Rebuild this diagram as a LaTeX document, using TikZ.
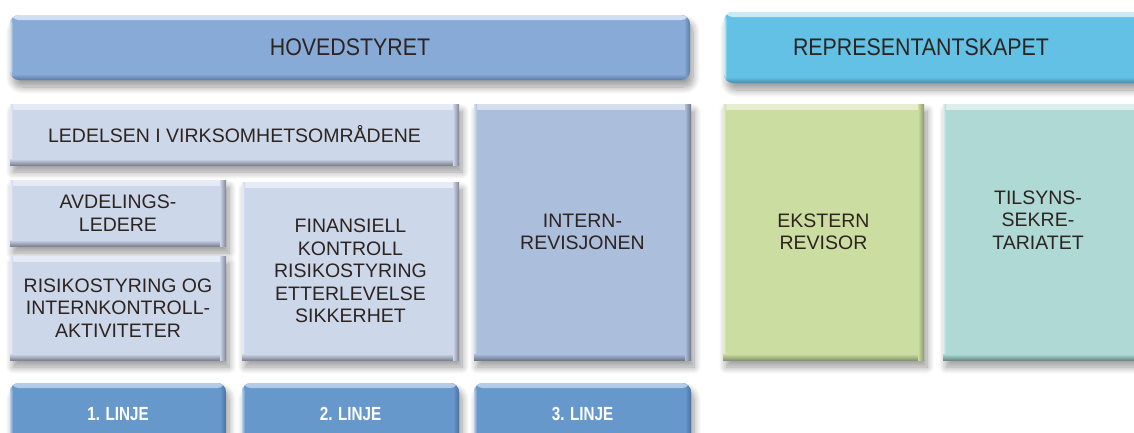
\documentclass[tikz,border=0pt]{standalone}
\usepackage{fontspec}
\setmainfont{Liberation Sans}
\newfontfamily\titlefamily[FakeStretch=0.89]{Liberation Sans}
\newfontfamily\linjefamily[FakeStretch=0.8]{Liberation Sans}
\usetikzlibrary{shadows.blur}

% text and panel colours (fill, dark bevel, light bevel)
\definecolor{ink}{HTML}{2D2420}
\definecolor{boardfill}{HTML}{87AAD7}\definecolor{boarddark}{HTML}{5C7BA5}\definecolor{boardlight}{HTML}{D3E0F2}
\definecolor{repfill}{HTML}{62C1E4}\definecolor{repdark}{HTML}{4A8DA8}\definecolor{replight}{HTML}{CDEBF6}
\definecolor{mgmtfill}{HTML}{CDD7EA}\definecolor{mgmtdark}{HTML}{7E8595}\definecolor{mgmtlight}{HTML}{E6ECF6}
\definecolor{auditfill}{HTML}{ABBEDC}\definecolor{auditdark}{HTML}{6C798E}\definecolor{auditlight}{HTML}{D5DFEE}
\definecolor{extfill}{HTML}{CCDDA2}\definecolor{extdark}{HTML}{889670}\definecolor{extlight}{HTML}{E6EED0}
\definecolor{supfill}{HTML}{AFD9D5}\definecolor{supdark}{HTML}{6C8C89}\definecolor{suplight}{HTML}{DCEFEC}
\definecolor{linefill}{HTML}{6798CC}\definecolor{linedark}{HTML}{4C70A0}\definecolor{linelight}{HTML}{B6CDE8}

\newcommand\bodysize{\fontsize{19.5}{22.4}\selectfont}
\newcommand\titlesize{\titlefamily\fontsize{24}{26}\selectfont}
\newcommand\linjesize{\linjefamily\bfseries\fontsize{19}{20}\selectfont}

\tikzset{
  % bevelled panel: #1 fill, #2 dark edge, #3 light edge
  panel/.style n args={3}{anchor=north west, inner sep=0pt, outer sep=0pt,
    fill=#1, text=ink, align=center, font=\bodysize,
    blur shadow={shadow xshift=3pt, shadow yshift=-7pt, shadow blur radius=7pt,
      shadow blur steps=10, shadow opacity=40},
    path picture={
      \shade[top color=#3, bottom color=#1] (path picture bounding box.north west)
        rectangle ([yshift=-5pt]path picture bounding box.north east);
      \shade[left color=#3, right color=#1] (path picture bounding box.north west)
        rectangle ([xshift=3pt]path picture bounding box.south west);
      \shade[top color=#1, bottom color=#2] ([yshift=6pt]path picture bounding box.south west)
        rectangle (path picture bounding box.south east);
      \shade[left color=#1, right color=#2] ([xshift=-6pt]path picture bounding box.north east)
        rectangle (path picture bounding box.south east);
    }},
  dims/.style 2 args={minimum width=#1, minimum height=#2},
  bar/.style={rounded corners=9pt},
  caption/.style={inner sep=0pt, text=ink, align=center, font=\bodysize},
}

\begin{document}
\begin{tikzpicture}[x=1pt, y=-1pt]
\useasboundingbox (0,0) rectangle (1134,432);
\clip (0,0) rectangle (1134,432);

% governing bodies
\node[panel={boardfill}{boarddark}{boardlight}, bar, dims={680pt}{65pt}, font=\titlesize]
  (board) at (10,15) {HOVEDSTYRET};
\node[panel={repfill}{repdark}{replight}, bar, dims={440pt}{71pt}] (rep) at (724,12) {};
\node[caption, font=\titlesize] (reptext) at (921,47) {REPRESENTANTSKAPET};

% management and control functions
\node[panel={mgmtfill}{mgmtdark}{mgmtlight}, dims={449pt}{61pt}]
  (mgmt) at (10,104) {LEDELSEN I VIRKSOMHETSOMRÅDENE};
\node[panel={mgmtfill}{mgmtdark}{mgmtlight}, dims={216pt}{66pt}]
  (dept) at (10,180) {AVDELINGS-\\LEDERE};
\node[panel={mgmtfill}{mgmtdark}{mgmtlight}, dims={216pt}{104pt}]
  (risk) at (10,256) {RISIKOSTYRING OG\\INTERNKONTROLL-\\AKTIVITETER};
\node[panel={mgmtfill}{mgmtdark}{mgmtlight}, dims={217pt}{178pt}]
  (control) at (242,182) {FINANSIELL\\KONTROLL\\RISIKOSTYRING\\ETTERLEVELSE\\SIKKERHET};
\node[panel={auditfill}{auditdark}{auditlight}, dims={217pt}{256pt}]
  (audit) at (474,104) {INTERN-\\REVISJONEN};

% external bodies
\node[panel={extfill}{extdark}{extlight}, dims={201pt}{256pt}]
  (ext) at (723,104) {EKSTERN\\REVISOR};
\node[panel={supfill}{supdark}{suplight}, dims={221pt}{256pt}] (sup) at (943,104) {};
\node[caption] (suptext) at (1038,220) {TILSYNS-\\SEKRE-\\TARIATET};

% lines of defence
\node[panel={linefill}{linedark}{linelight}, bar, dims={216pt}{62pt}, text=white, font=\linjesize]
  (line1) at (10,383) {1. LINJE};
\node[panel={linefill}{linedark}{linelight}, bar, dims={217pt}{62pt}, text=white, font=\linjesize]
  (line2) at (242,383) {2. LINJE};
\node[panel={linefill}{linedark}{linelight}, bar, dims={217pt}{62pt}, text=white, font=\linjesize]
  (line3) at (474,383) {3. LINJE};
\end{tikzpicture}
\end{document}
